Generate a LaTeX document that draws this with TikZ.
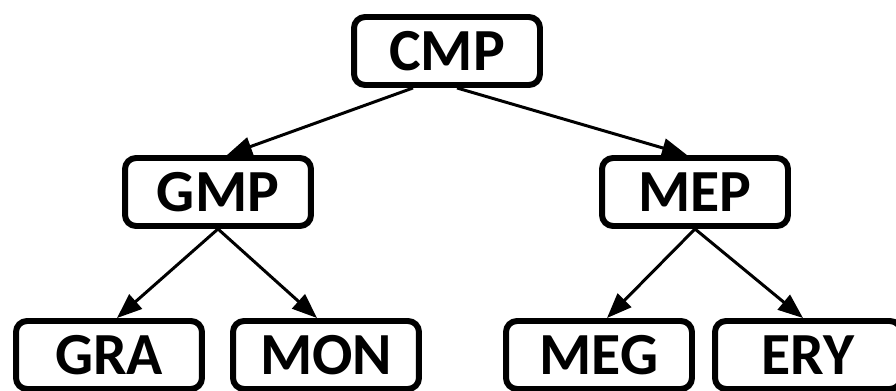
\documentclass[tikz,border=0pt]{standalone}
\usepackage{fontspec}
\setmainfont{Carlito}
\usetikzlibrary{arrows.meta}

\tikzset{
  box/.style={draw, line width=3.4pt, rounded corners=0.22cm,
    minimum width=3.72cm, minimum height=1.36cm, inner sep=0pt,
    font=\fontsize{34}{34}\selectfont\bfseries},
  link/.style={line width=1.7pt, -{Triangle[length=0.5cm, width=0.38cm]}}
}

\begin{document}
\begin{tikzpicture}[x=0.02cm, y=-0.02cm]
  \useasboundingbox (0,0) rectangle (896,391);

  \node[box] (cmp) at (447,51) {CMP};
  \node[box] (gmp) at (218,192) {GMP};
  \node[box] (mep) at (695,192) {MEP};

  \node[box] (gra) at (109,355) {GRA};
  \node[box] (mon) at (326,355) {MON};
  \node[box] (meg) at (599,355) {MEG};
  \node[box] (ery) at (808,355) {ERY};

  \draw[link] ([xshift=-0.68cm]cmp.south) -- ([xshift=0.18cm]gmp.north);
  \draw[link] ([xshift=0.2cm]cmp.south) -- ([xshift=-0.16cm]mep.north);

  \draw[link] (gmp.south) -- ([xshift=0.16cm]gra.north);
  \draw[link] (gmp.south) -- ([xshift=-0.18cm]mon.north);
  \draw[link] (mep.south) -- ([xshift=0.16cm]meg.north);
  \draw[link] (mep.south) -- ([xshift=-0.1cm]ery.north);
\end{tikzpicture}
\end{document}
